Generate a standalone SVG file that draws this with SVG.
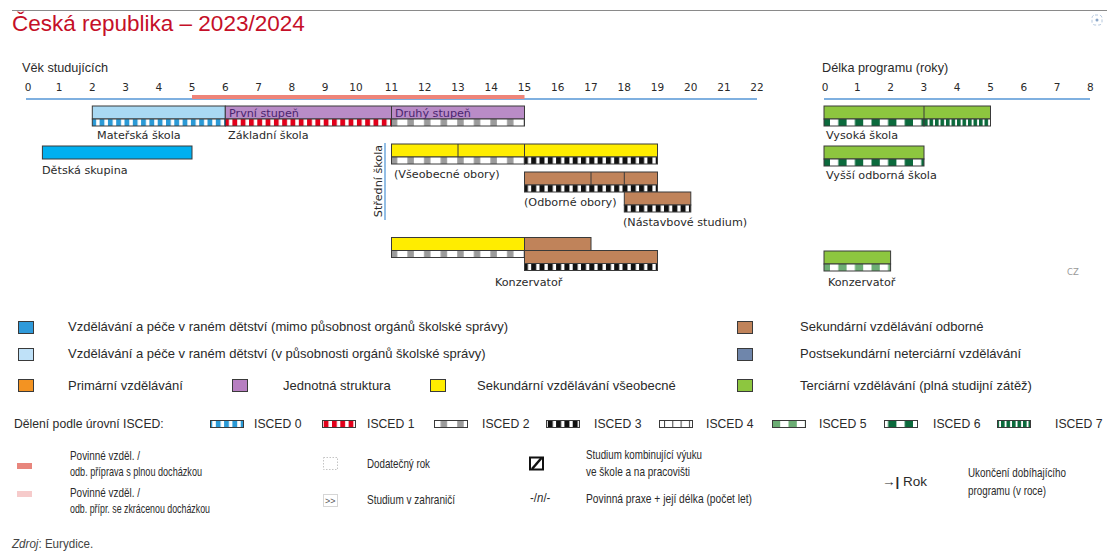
<svg xmlns="http://www.w3.org/2000/svg" width="1107" height="551" viewBox="0 0 1107 551">
<style>
.t{font-family:"DejaVu Sans",Verdana,sans-serif;font-size:11.2px;fill:#2a2a2a}
.n{font-family:"DejaVu Sans",Verdana,sans-serif;font-size:10.5px;fill:#2a2a2a;text-anchor:middle}
.h{font-family:"Liberation Sans",Arial,sans-serif;font-size:12.7px;fill:#2a2a2a}
.l{font-family:"Liberation Sans",Arial,sans-serif;font-size:13px;fill:#2a2a2a}
.i{font-family:"Liberation Sans",Arial,sans-serif;font-size:12.2px;fill:#2a2a2a}
.c{font-family:"Liberation Sans",Arial,sans-serif;font-size:13.5px;fill:#2a2a2a}
.bar{stroke:#3a3a3a;stroke-width:1}
.sq{stroke:#3a3a3a;stroke-width:1}
.div{stroke:#3a3a3a;stroke-width:1}
</style>
<defs>
<pattern id="p0" width="8.3" height="8" patternUnits="userSpaceOnUse"><rect width="8.3" height="8" fill="#fff"/><rect width="4.8" height="8" fill="#2b9ad6"/></pattern>
<pattern id="p1" width="8.3" height="8" patternUnits="userSpaceOnUse"><rect width="8.3" height="8" fill="#fff"/><rect width="4.8" height="8" fill="#e2001a"/></pattern>
<pattern id="p2" width="16.6" height="8" patternUnits="userSpaceOnUse"><rect width="16.6" height="8" fill="#fff"/><rect x="9" width="6.5" height="8" fill="#9b9b9b"/></pattern>
<pattern id="p3" width="8.3" height="8" patternUnits="userSpaceOnUse"><rect width="8.3" height="8" fill="#fff"/><rect width="5" height="8" fill="#111"/></pattern>
<pattern id="p4" width="8.3" height="8" patternUnits="userSpaceOnUse"><rect width="8.3" height="8" fill="#fff"/><rect width="1" height="8" fill="#444"/></pattern>
<pattern id="p5" width="16.6" height="8" patternUnits="userSpaceOnUse"><rect width="16.6" height="8" fill="#fff"/><rect x="8.3" width="8.3" height="8" fill="#6cad74"/></pattern>
<pattern id="p6" width="16.6" height="8" patternUnits="userSpaceOnUse"><rect width="16.6" height="8" fill="#fff"/><rect x="8.3" width="8.3" height="8" fill="#0b6a3c"/></pattern>
<pattern id="p7" width="5.5" height="8" patternUnits="userSpaceOnUse"><rect width="5.5" height="8" fill="#fff"/><rect width="3.6" height="8" fill="#0b6a3c"/></pattern>
</defs>
<rect width="1107" height="551" fill="#fff"/>
<line x1="12" y1="10.5" x2="1107" y2="10.5" stroke="#8a8a8a" stroke-width="1"/>
<text x="12" y="31" font-family="Liberation Sans, Arial, sans-serif" font-size="22.5" fill="#c50f28">Česká republika – 2023/2024</text>
<g id="icon"><rect x="1092" y="15" width="10" height="10" rx="3" fill="none" stroke="#b5c8de" stroke-width="1" stroke-dasharray="3 2"/><circle cx="1097" cy="20" r="1.5" fill="#8aa6c8"/></g>

<g id="axes">
<text class="h" x="22" y="72">Věk studujících</text>
<line x1="26" y1="99" x2="757" y2="99" stroke="#7fb0e0" stroke-width="2"/>
<line x1="192" y1="97" x2="524.5" y2="97" stroke="#ee8479" stroke-width="4"/>
<text class="n" x="28" y="91">0</text><text class="n" x="59" y="91">1</text><text class="n" x="92.3" y="91">2</text><text class="n" x="125.5" y="91">3</text><text class="n" x="158.8" y="91">4</text><text class="n" x="192" y="91">5</text><text class="n" x="225.3" y="91">6</text><text class="n" x="258.5" y="91">7</text><text class="n" x="291.8" y="91">8</text><text class="n" x="325" y="91">9</text><text class="n" x="356" y="91">10</text><text class="n" x="391.5" y="91">11</text><text class="n" x="424.8" y="91">12</text><text class="n" x="458" y="91">13</text><text class="n" x="491.3" y="91">14</text><text class="n" x="524.5" y="91">15</text><text class="n" x="557.8" y="91">16</text><text class="n" x="591" y="91">17</text><text class="n" x="624.3" y="91">18</text><text class="n" x="657.5" y="91">19</text><text class="n" x="690.8" y="91">20</text><text class="n" x="724" y="91">21</text><text class="n" x="757" y="91">22</text>
<text class="h" x="822" y="72">Délka programu (roky)</text>
<line x1="824" y1="99" x2="1090" y2="99" stroke="#7fb0e0" stroke-width="2"/>
<text class="n" x="825" y="91">0</text><text class="n" x="857.3" y="91">1</text><text class="n" x="890.6" y="91">2</text><text class="n" x="923.9" y="91">3</text><text class="n" x="957.2" y="91">4</text><text class="n" x="990.5" y="91">5</text><text class="n" x="1023.8" y="91">6</text><text class="n" x="1057.1" y="91">7</text><text class="n" x="1090.4" y="91">8</text>
<line x1="385" y1="143" x2="385" y2="220" stroke="#6fa8dc" stroke-width="1.5"/>
<text class="t" transform="translate(382,181) rotate(-90)" text-anchor="middle">Střední škola</text>
</g>

<g id="materska-skola">
<rect class="bar" x="92.3" y="106" width="133" height="13" fill="#a9d9f3"/>
<rect class="bar" x="92.3" y="119" width="133" height="7" fill="url(#p0)"/>
<text class="t" x="97" y="139">Mateřská škola</text>
</g>
<g id="zakladni-skola">
<rect class="bar" x="225.3" y="106" width="299.2" height="13" fill="#b98cc7"/>
<rect class="bar" x="225.3" y="119" width="166.2" height="7" fill="url(#p1)"/>
<rect class="bar" x="391.5" y="119" width="133" height="7" fill="url(#p2)"/>
<line class="div" x1="391.5" y1="106" x2="391.5" y2="119"/>
<text class="t" x="229" y="117" style="fill:#4b2570">První stupeň</text>
<text class="t" x="395" y="117" style="fill:#4b2570">Druhý stupeň</text>
<text class="t" x="228" y="139">Základní škola</text>
</g>
<g id="detska-skupina">
<rect class="bar" x="42.4" y="146" width="149.6" height="13" fill="#00b0f0"/>
<text class="t" x="42" y="174">Dětská skupina</text>
</g>
<g id="vseobecne-obory">
<rect class="bar" x="391.5" y="144" width="266" height="13" fill="#ffed00"/>
<line class="div" x1="458" y1="144" x2="458" y2="157"/>
<line class="div" x1="524.5" y1="144" x2="524.5" y2="157"/>
<rect class="bar" x="391.5" y="157" width="133" height="7" fill="url(#p2)"/>
<rect class="bar" x="524.5" y="157" width="133" height="7" fill="url(#p3)"/>
<text class="t" x="394" y="178">(Všeobecné obory)</text>
</g>
<g id="odborne-obory">
<rect class="bar" x="524.5" y="172" width="133" height="13" fill="#c0835a"/>
<line class="div" x1="591" y1="172" x2="591" y2="185"/>
<line class="div" x1="624.3" y1="172" x2="624.3" y2="185"/>
<rect class="bar" x="524.5" y="185" width="133" height="7" fill="url(#p3)"/>
<text class="t" x="524" y="206">(Odborné obory)</text>
</g>
<g id="nastavbove-studium">
<rect class="bar" x="624.3" y="192" width="66.5" height="13" fill="#c0835a"/>
<rect class="bar" x="624.3" y="205" width="66.5" height="7" fill="url(#p3)"/>
<text class="t" x="623" y="226">(Nástavbové studium)</text>
</g>
<g id="konzervator">
<rect class="bar" x="391.5" y="237.5" width="133" height="13" fill="#ffed00"/>
<rect class="bar" x="391.5" y="250.5" width="133" height="7" fill="url(#p2)"/>
<rect class="bar" x="524.5" y="237.5" width="66.5" height="13" fill="#c0835a"/>
<rect class="bar" x="524.5" y="250.5" width="133" height="13" fill="#c0835a"/>
<rect class="bar" x="524.5" y="263.5" width="133" height="7" fill="url(#p3)"/>
<text class="t" x="495" y="286">Konzervatoř</text>
</g>
<g id="vysoka-skola">
<rect class="bar" x="824" y="106" width="166.5" height="13" fill="#8dc63f"/>
<line class="div" x1="924" y1="106" x2="924" y2="119"/>
<rect class="bar" x="824" y="119" width="100" height="7" fill="url(#p6)"/>
<rect class="bar" x="924" y="119" width="66.5" height="7" fill="url(#p7)"/>
<text class="t" x="826" y="139">Vysoká škola</text>
</g>
<g id="vyssi-odborna-skola">
<rect class="bar" x="824" y="146" width="100" height="13" fill="#8dc63f"/>
<rect class="bar" x="824" y="159" width="100" height="7" fill="url(#p6)"/>
<text class="t" x="826" y="179">Vyšší odborná škola</text>
</g>
<g id="konzervator-terciarni">
<rect class="bar" x="824" y="251" width="66.6" height="13" fill="#8dc63f"/>
<rect class="bar" x="824" y="264" width="66.6" height="7" fill="url(#p5)"/>
<text class="t" x="828" y="286">Konzervatoř</text>
</g>
<text x="1067" y="275" font-family="DejaVu Sans, sans-serif" font-size="8.5" fill="#999">CZ</text>

<g id="legend-colors">
<rect class="sq" x="18.5" y="321.5" width="15" height="12" fill="#2f9ada"/>
<text class="l" x="68" y="330.5">Vzdělávání a péče v raném dětství (mimo působnost orgánů školské správy)</text>
<rect class="sq" x="18.5" y="348.5" width="15" height="12" fill="#bfe1f8"/>
<text class="l" x="68" y="357.5">Vzdělávání a péče v raném dětství (v působnosti orgánů školské správy)</text>
<rect class="sq" x="18.5" y="379.5" width="15" height="12" fill="#f39322"/>
<text class="l" x="68" y="389.5">Primární vzdělávání</text>
<rect class="sq" x="232.5" y="379.5" width="15" height="12" fill="#b77fc1"/>
<text class="l" x="283" y="389.5">Jednotná struktura</text>
<rect class="sq" x="430.5" y="379.5" width="15" height="12" fill="#ffed00"/>
<text class="l" x="477" y="389.5">Sekundární vzdělávání všeobecné</text>
<rect class="sq" x="737.5" y="321.5" width="15" height="12" fill="#c0835a"/>
<text class="l" x="800" y="330.5">Sekundární vzdělávání odborné</text>
<rect class="sq" x="737.5" y="348.5" width="15" height="12" fill="#6f86ab"/>
<text class="l" x="800" y="357.5">Postsekundární neterciární vzdělávání</text>
<rect class="sq" x="737.5" y="379.5" width="15" height="12" fill="#8dc63f"/>
<text class="l" x="800" y="389.5">Terciární vzdělávání (plná studijní zátěž)</text>
</g>

<g id="legend-isced">
<text class="i" x="14" y="428">Dělení podle úrovní ISCED:</text>
<rect class="sq" x="210.5" y="420.5" width="33" height="7" fill="url(#p0)"/><text class="i" x="254" y="428">ISCED 0</text>
<rect class="sq" x="322.5" y="420.5" width="33" height="7" fill="url(#p1)"/><text class="i" x="367" y="428">ISCED 1</text>
<rect class="sq" x="434.5" y="420.5" width="33" height="7" fill="url(#p2)"/><text class="i" x="482" y="428">ISCED 2</text>
<rect class="sq" x="546.5" y="420.5" width="33" height="7" fill="url(#p3)"/><text class="i" x="594" y="428">ISCED 3</text>
<rect class="sq" x="659.5" y="420.5" width="33" height="7" fill="url(#p4)"/><text class="i" x="706" y="428">ISCED 4</text>
<rect class="sq" x="772.5" y="420.5" width="33" height="7" fill="url(#p5)"/><text class="i" x="819" y="428">ISCED 5</text>
<rect class="sq" x="884.5" y="420.5" width="33" height="7" fill="url(#p6)"/><text class="i" x="933" y="428">ISCED 6</text>
<rect class="sq" x="997.5" y="420.5" width="33" height="7" fill="url(#p7)"/><text class="i" x="1055" y="428">ISCED 7</text>
</g>

<g id="legend-other">
<rect x="17" y="463" width="15" height="6" fill="#e8867d"/>
<text class="c" x="70" y="460" textLength="70" lengthAdjust="spacingAndGlyphs">Povinné vzděl. /</text>
<text class="c" x="70" y="476" textLength="132" lengthAdjust="spacingAndGlyphs">odb. příprava s plnou docházkou</text>
<rect x="17" y="491" width="15" height="6" fill="#f6cbcb"/>
<text class="c" x="70" y="497" textLength="70" lengthAdjust="spacingAndGlyphs">Povinné vzděl. /</text>
<text class="c" x="70" y="513" textLength="140" lengthAdjust="spacingAndGlyphs">odb. přípr. se zkrácenou docházkou</text>
<rect x="323.5" y="457.5" width="14" height="12" fill="none" stroke="#c4c4c4" stroke-width="1" stroke-dasharray="1.5 1.5"/>
<text class="c" x="367" y="468" textLength="63" lengthAdjust="spacingAndGlyphs">Dodatečný rok</text>
<rect x="323.5" y="494.5" width="14" height="12" fill="#fff" stroke="#d6d6d6" stroke-width="1"/>
<text x="325" y="504" font-family="Liberation Sans, Arial, sans-serif" font-size="9" fill="#555">&gt;&gt;</text>
<text class="c" x="367" y="504" textLength="88" lengthAdjust="spacingAndGlyphs">Studium v zahraničí</text>
<rect x="530" y="457.5" width="13" height="12" fill="#fff" stroke="#111" stroke-width="2"/>
<line x1="532" y1="469" x2="541.5" y2="458" stroke="#111" stroke-width="2.5"/>
<text class="c" x="586" y="459" textLength="116" lengthAdjust="spacingAndGlyphs">Studium kombinující výuku</text>
<text class="c" x="586" y="476" textLength="104" lengthAdjust="spacingAndGlyphs">ve škole a na pracovišti</text>
<text class="c" transform="translate(530,502) scale(0.85,1)">-/<tspan font-style="italic">n</tspan>/-</text>
<text class="c" x="586" y="503" textLength="166" lengthAdjust="spacingAndGlyphs">Povinná praxe + její délka (počet let)</text>
<text class="c" x="882" y="486"><tspan font-weight="bold">→|</tspan> Rok</text>
<text class="c" x="968" y="477" textLength="98" lengthAdjust="spacingAndGlyphs">Ukončení dobíhajícího</text>
<text class="c" x="968" y="495" textLength="78" lengthAdjust="spacingAndGlyphs">programu (v roce)</text>
<text class="c" transform="translate(12,548) scale(0.86,1)" style="fill:#444"><tspan font-style="italic">Zdroj</tspan>: Eurydice.</text>
</g>
</svg>
